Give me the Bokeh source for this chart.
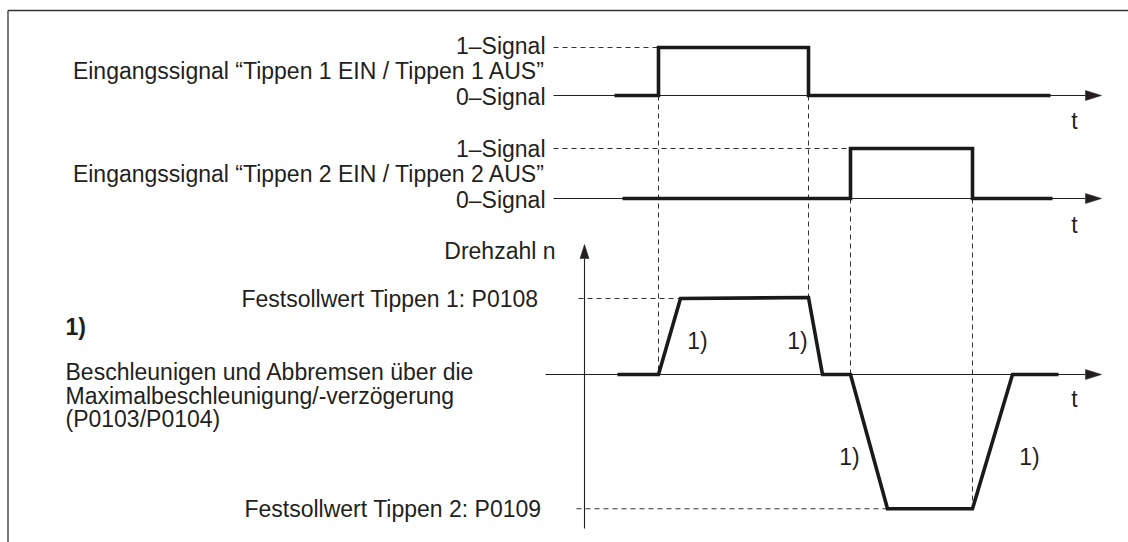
from bokeh.plotting import figure
from bokeh.models import Range1d
from bokeh.core.properties import value
from bokeh.embed import file_html
from bokeh.resources import INLINE

# ---------------- data (time in arbitrary units, speed in rpm) ----------------
t_sig1 = [3.0, 7.4, 7.4, 22.4, 22.4, 46.6]
v_sig1 = [0, 0, 1, 1, 0, 0]
t_sig2 = [3.8, 26.6, 26.6, 38.8, 38.8, 46.8]
v_sig2 = [0, 0, 1, 1, 0, 0]
t_speed = [3.3, 7.4, 9.6, 22.4, 23.8, 26.6, 30.3, 38.8, 42.8, 47.4]
n_speed = [0, 0, 300, 304, 0, 0, -530, -530, 0, 0]
n_jog1 = 300
n_jog2 = -530

sig1_labels = ["1\u2013Signal", "Eingangssignal \u201cTippen 1 EIN / Tippen 1 AUS\u201d", "0\u2013Signal"]
sig2_labels = ["1\u2013Signal", "Eingangssignal \u201cTippen 2 EIN / Tippen 2 AUS\u201d", "0\u2013Signal"]
speed_label = "Drehzahl n"
jog1_label = "Festsollwert Tippen 1: P0108"
jog2_label = "Festsollwert Tippen 2: P0109"
note_title = "1)"
note_lines = ["Beschleunigen und Abbremsen \u00fcber die",
              "Maximalbeschleunigung/-verz\u00f6gerung",
              "(P0103/P0104)"]
ramp_note = "1)"

# ---------------- layout ----------------
W, H = 1128, 542
X0_PX, PX_PER_T = 584, 10.0


def tx(px):
    return (px - X0_PX) / PX_PER_T


def lane(v0, px0, v1, px1):
    a = (px1 - px0) / (v1 - v0)
    b = px0 - a * v0
    return Range1d(start=(H - b) / a, end=(0 - b) / a), (lambda v: a * v + b)


r_s1, s1_px = lane(0, 95, 1, 47)
r_s2, s2_px = lane(0, 198, 1, 148)
r_n, n_px = lane(0, 374, n_jog1, 298)

FONT = value("Liberation Sans")
FS = "23px"
INK = "#231f20"

p = figure(width=W, height=H, output_backend="svg", toolbar_location=None,
           x_range=Range1d(tx(0), tx(W)), y_range=Range1d(H, 0),
           x_axis_type=None, y_axis_type=None, min_border=0,
           background_fill_color="white", border_fill_color="white")
p.outline_line_color = None
p.grid.visible = False
p.extra_y_ranges = {"s1": r_s1, "s2": r_s2, "n": r_n}

# frame (top and left)
p.line([tx(7.5), tx(W)], [10, 10], line_color="#333333", line_width=1.3)
p.line([tx(7.5), tx(7.5)], [10, H], line_color="#333333", line_width=1.3)

dash = dict(line_color="#333333", line_width=1, line_dash="5 4")
HEAD_L, HEAD_W = 16, 5


def haxis(y_px, x_start_px, x_tip_px=1101):
    p.line([tx(x_start_px), tx(x_tip_px - HEAD_L)], [y_px, y_px], line_color=INK, line_width=1.1)
    p.patch([tx(x_tip_px - HEAD_L), tx(x_tip_px), tx(x_tip_px - HEAD_L)],
            [y_px - HEAD_W, y_px, y_px + HEAD_W], fill_color=INK, line_color=INK, line_width=0.5)


# lane axes
haxis(s1_px(0), 553)
haxis(s2_px(0), 553)
haxis(n_px(0), 545)
# speed (vertical) axis
p.line([0, 0], [528, 244 + 14], line_color=INK, line_width=1.1)
p.patch([tx(X0_PX - 4.5), tx(X0_PX), tx(X0_PX + 4.5)], [258, 244, 258],
        fill_color=INK, line_color=INK, line_width=0.5)

t_on1, t_off1 = t_sig1[1], t_sig1[3]
t_on2, t_off2 = t_sig2[1], t_sig2[3]

# horizontal guide lines
p.line([tx(553), t_on1], [1, 1], y_range_name="s1", **dash)
p.line([tx(553), t_on2], [1, 1], y_range_name="s2", **dash)
p.line([tx(578), t_speed[2]], [n_jog1, n_jog1], y_range_name="n", **dash)
p.line([tx(576), t_speed[6]], [n_jog2, n_jog2], y_range_name="n", **dash)

# vertical guide lines
p.line([t_on1, t_on1], [s1_px(0), n_px(0)], **dash)
p.line([t_off1, t_off1], [s1_px(0), n_px(n_speed[3])], **dash)
p.line([t_on2, t_on2], [s2_px(0), n_px(0)], **dash)
p.line([t_off2, t_off2], [s2_px(0), n_px(n_jog2)], **dash)

# waveforms
thick = dict(line_color="#1a1a1a", line_width=3.6, line_join="miter")
p.line(t_sig1, v_sig1, y_range_name="s1", **thick)
p.line(t_sig2, v_sig2, y_range_name="s2", **thick)
p.line(t_speed, n_speed, y_range_name="n", **thick)


# texts
def txt(x_px, y_px, s, align="right", weight="normal"):
    p.text(x=[tx(x_px)], y=[y_px], text=[s], text_font=FONT, text_font_size=FS,
           text_color=INK, text_align=align, text_baseline="middle",
           text_font_style=weight)


for y, s in zip([45, 70, 96], sig1_labels):
    txt(545, y, s)
for y, s in zip([148, 173, 199], sig2_labels):
    txt(545, y, s)
for y in [120, 224, 398]:
    txt(1074, y, "t", align="center")
txt(555, 250, speed_label)
txt(538, 298, jog1_label)
txt(541, 508, jog2_label)
txt(65, 326, note_title, align="left", weight="bold")
for y, s in zip([371, 395, 418], note_lines):
    txt(65, y, s, align="left")
for x, y in [(697, 340), (797, 340), (849, 456), (1029, 456)]:
    txt(x, y, ramp_note, align="center")

open("out.html", "w").write(file_html(p, INLINE))
